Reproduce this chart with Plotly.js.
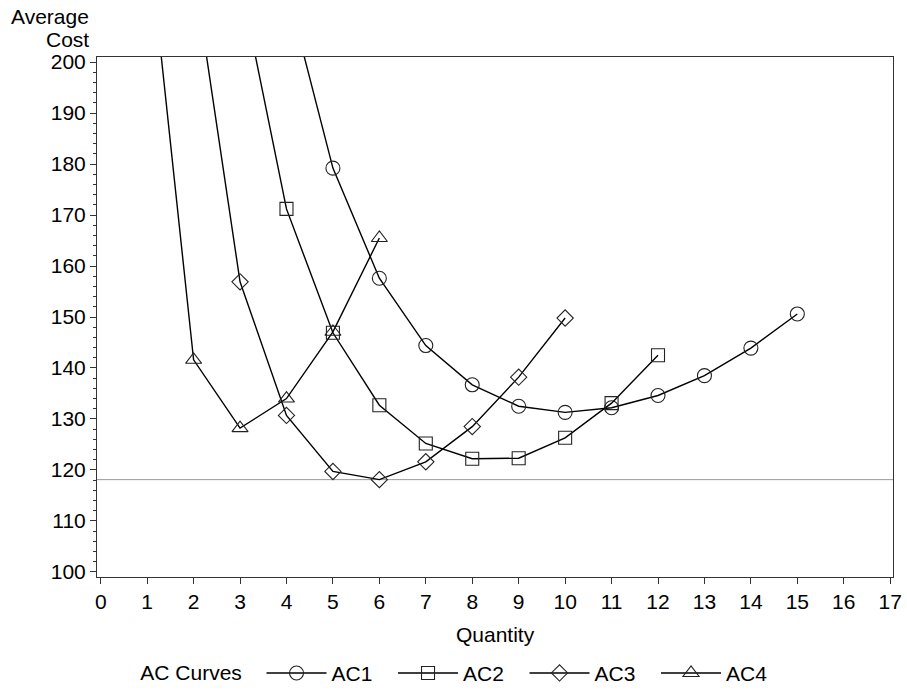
<!DOCTYPE html>
<html>
<head>
<meta charset="utf-8">
<script src="https://cdn.plot.ly/plotly-3.0.1.min.js"></script>
<style>html,body{margin:0;padding:0;background:#fff}#chart{width:907px;height:692px}</style>
</head>
<body>
<div id="chart"></div>
<script>
// Quantities and average cost values for each curve
const ac1Q = [4, 5, 6, 7, 8, 9, 10, 11, 12, 13, 14, 15];
const ac1 = [214.6, 179.2, 157.6, 144.4, 136.7, 132.5, 131.3, 132.2, 134.6, 138.5, 143.9, 150.6];
const ac2Q = [3, 4, 5, 6, 7, 8, 9, 10, 11, 12];
const ac2 = [216.0, 171.2, 146.9, 132.7, 125.2, 122.2, 122.3, 126.3, 133.1, 142.5];
const ac3Q = [2, 3, 4, 5, 6, 7, 8, 9, 10];
const ac3 = [218.2, 156.9, 130.7, 119.7, 118.1, 121.6, 128.5, 138.2, 149.8];
const ac4Q = [1, 2, 3, 4, 5, 6];
const ac4 = [227.0, 141.6, 128.2, 134.0, 147.1, 165.5];
const seriesNames = ['AC1', 'AC2', 'AC3', 'AC4'];
const xTicks = [0,1,2,3,4,5,6,7,8,9,10,11,12,13,14,15,16,17];
const yTicks = [100,110,120,130,140,150,160,170,180,190,200];
const legendTitle = 'AC Curves';
const xTitle = 'Quantity';
const yTitleLines = ['Average', 'Cost'];

const FONT = 'Liberation Sans, Arial, Helvetica, sans-serif';
const FS = 21;
const symbols = ['circle-open', 'square-open', 'diamond-open', 'triangle-up-open'];
const sizes = [14, 13, 12.5, 14];
const xs = [ac1Q, ac2Q, ac3Q, ac4Q];
const ys = [ac1, ac2, ac3, ac4];

const traces = seriesNames.map((name, i) => ({
  type: 'scatter',
  mode: 'lines+markers',
  name: name,
  x: xs[i],
  y: ys[i],
  line: {color: '#000', width: 1.4},
  marker: {symbol: symbols[i], size: sizes[i], color: '#222', line: {width: 1.1, color: '#222'}},
  cliponaxis: true
}));

const minAC = Math.min(...ac3);

const layout = {
  width: 907,
  height: 692,
  margin: {l: 97, r: 14, t: 57, b: 115, pad: 0},
  paper_bgcolor: '#fff',
  plot_bgcolor: '#fff',
  font: {family: FONT, size: FS, color: '#000'},
  showlegend: true,
  xaxis: {
    range: [-0.08, 17.06],
    tickvals: xTicks,
    ticktext: xTicks.map(String),
    ticks: 'outside', ticklen: 6, tickwidth: 1, tickcolor: '#333',
    showgrid: false, zeroline: false,
    showline: true, linecolor: '#333', linewidth: 1, mirror: true,
    tickfont: {family: FONT, size: FS, color: '#000'}
  },
  yaxis: {
    range: [99.0, 201.0],
    tickvals: yTicks,
    ticktext: yTicks.map(String),
    ticks: 'outside', ticklen: 6, tickwidth: 1, tickcolor: '#333',
    minor: {dtick: 2, ticks: 'outside', ticklen: 3, tickcolor: '#333', tickwidth: 1, showgrid: false},
    showgrid: false, zeroline: false,
    showline: true, linecolor: '#333', linewidth: 1, mirror: true,
    tickfont: {family: FONT, size: FS, color: '#000'}
  },
  shapes: [{
    type: 'line', xref: 'paper', yref: 'y', x0: 0, x1: 1, y0: minAC, y1: minAC,
    line: {color: '#999', width: 1}, layer: 'below'
  }],
  annotations: [
    {text: xTitle, xref: 'paper', yref: 'paper', x: 0.5, y: -0.11, xanchor: 'center', yanchor: 'middle', showarrow: false, font: {family: FONT, size: FS}},
    {text: yTitleLines[0], xref: 'paper', yref: 'paper', x: -0.008, y: 1.077, xanchor: 'right', yanchor: 'middle', showarrow: false, font: {family: FONT, size: FS}},
    {text: yTitleLines[1], xref: 'paper', yref: 'paper', x: -0.008, y: 1.034, xanchor: 'right', yanchor: 'middle', showarrow: false, font: {family: FONT, size: FS}}
  ],
  legend: {
    orientation: 'h',
    xref: 'container', yref: 'container',
    x: 0.1525, xanchor: 'left',
    y: 0.027, yanchor: 'middle',
    title: {text: legendTitle + '&nbsp;&nbsp;', side: 'left', font: {family: FONT, size: FS}},
    font: {family: FONT, size: FS},
    itemwidth: 60,
    entrywidth: 56.5, entrywidthmode: 'pixels',
    bgcolor: 'rgba(0,0,0,0)', borderwidth: 0
  }
};

Plotly.newPlot('chart', traces, layout, {displayModeBar: false, staticPlot: true});
</script>
</body>
</html>
